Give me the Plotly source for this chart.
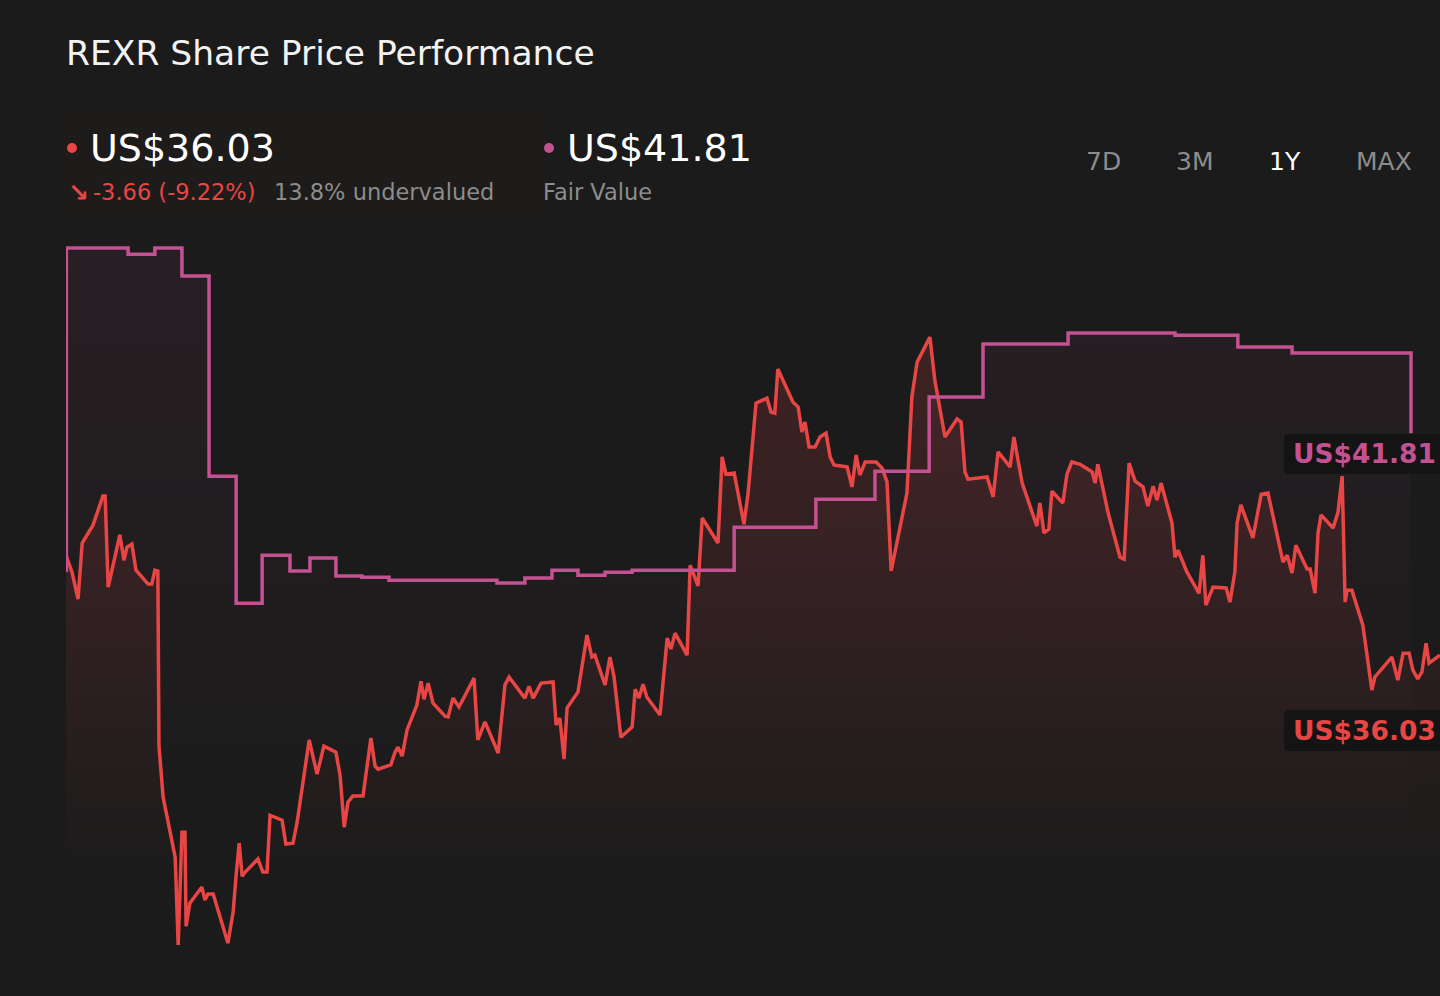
import pandas as pd
import plotly.graph_objects as go

# ---- data ----
START = pd.Timestamp("2023-03-06")
SPAN_DAYS = 365

price_days = [
    0.0, 1.6, 3.2, 4.3, 7.2, 8.8, 9.8, 10.4, 11.2, 12.8, 14.3, 15.4, 16.2, 17.5, 18.6,
    21.8, 22.8, 23.6, 24.4, 24.7, 25.8, 29.0, 29.8, 30.8, 31.6, 31.9, 32.9, 36.1, 36.9,
    37.7, 39.1, 43.0, 44.4, 45.2, 46.0, 46.8, 47.6, 51.0, 52.3, 53.4, 54.2, 57.4, 58.4,
    60.3, 61.4, 64.6, 66.7, 68.5, 71.7, 72.8, 73.9, 74.9, 76.2, 78.9, 81.0, 82.1, 82.9,
    86.3, 87.4, 88.2, 89.3, 90.6, 93.2, 94.3, 95.1, 96.2, 97.5, 100.7, 101.5, 102.8,
    104.4, 108.4, 109.4, 111.3, 114.8, 116.6, 117.7, 121.9, 123.0, 124.1, 126.2, 129.4,
    130.2, 131.2, 132.3, 133.1, 136.0, 138.4, 139.7, 140.5, 143.2, 144.5, 145.6, 147.4,
    150.4, 151.2, 152.2, 153.3, 154.3, 157.8, 159.7, 160.7, 161.8, 165.0, 165.8, 167.9,
    169.0, 173.2, 174.3, 175.3, 177.5, 180.1, 181.2, 183.3, 186.2, 187.3, 188.3, 189.1,
    193.1, 194.5, 195.5, 196.3, 197.4, 199.0, 200.3, 201.9, 203.0, 204.0, 207.5, 208.8,
    209.9, 210.9, 212.3, 215.2, 216.8, 218.1, 219.2, 223.4, 224.7, 226.1, 229.5, 230.8,
    232.2, 233.5, 236.7, 237.8, 238.8, 239.6, 244.7, 246.3, 247.6, 250.8, 251.8, 254.0,
    257.9, 258.7, 259.8, 261.1, 261.9, 264.8, 265.9, 267.2, 269.4, 272.6, 273.4, 274.1,
    276.8, 280.0, 281.1, 282.4, 284.0, 286.1, 287.4, 288.8, 289.8, 290.9, 293.8, 294.6,
    295.4, 297.8, 301.0, 302.0, 302.8, 304.7, 308.2, 309.2, 310.5, 311.1, 312.1, 315.3,
    317.5, 319.3, 323.3, 324.4, 325.7, 326.7, 329.7, 330.5, 331.8, 332.6, 333.4, 336.6,
    337.9, 339.0, 339.8, 340.3, 341.6, 344.5, 346.9, 347.7, 352.2, 353.8, 355.2, 356.8,
    357.8, 359.1, 360.2, 361.3, 362.1, 365.0,
]
price = [
    38.63, 38.19, 37.49, 38.95, 39.42, 39.86, 40.17, 40.17, 37.80, 38.50, 39.16, 38.50,
    38.84, 38.92, 38.24, 37.88, 37.88, 38.24, 38.22, 33.66, 32.33, 30.77, 28.48, 31.42,
    31.42, 28.97, 29.57, 29.99, 29.65, 29.81, 29.81, 28.53, 29.34, 30.30, 31.13, 30.27,
    30.38, 30.72, 30.38, 30.38, 31.86, 31.73, 31.11, 31.13, 31.68, 33.82, 32.93, 33.66,
    33.50, 32.91, 31.55, 32.20, 32.36, 32.36, 33.87, 33.14, 33.06, 33.17, 33.50, 33.63,
    33.40, 34.08, 34.73, 35.35, 34.88, 35.30, 34.78, 34.44, 34.42, 34.91, 34.68, 35.43,
    33.82, 34.29, 33.48, 35.25, 35.46, 34.91, 35.22, 34.91, 35.30, 35.33, 34.21, 34.39,
    33.32, 34.65, 35.07, 36.55, 35.98, 36.03, 35.25, 35.98, 35.46, 33.89, 34.16, 35.14,
    34.91, 35.27, 34.94, 34.47, 36.47, 36.19, 36.60, 36.03, 38.37, 37.83, 39.60, 38.95,
    41.19, 40.74, 40.77, 39.44, 40.25, 42.59, 42.72, 42.36, 42.33, 43.48, 42.62, 42.49,
    41.84, 42.10, 41.45, 41.45, 41.71, 41.81, 41.19, 40.98, 40.93, 40.41, 41.24, 40.72,
    41.06, 41.06, 40.90, 40.54, 38.22, 40.25, 42.75, 43.66, 44.31, 43.19, 42.46, 41.71,
    42.18, 42.10, 40.80, 40.61, 40.67, 40.15, 41.32, 40.93, 41.71, 40.51, 39.39, 39.99,
    39.21, 39.31, 40.30, 39.99, 40.74, 41.06, 41.00, 40.80, 40.51, 41.00, 39.75, 38.58,
    38.53, 41.03, 40.56, 40.41, 39.91, 40.43, 40.07, 40.51, 39.47, 38.58, 38.76, 38.19,
    37.64, 38.63, 37.33, 37.80, 37.78, 37.41, 38.19, 39.47, 39.94, 39.08, 40.22, 40.25,
    38.45, 38.63, 38.17, 38.89, 38.27, 38.27, 37.64, 39.21, 39.68, 39.34, 39.75, 40.69,
    37.41, 37.72, 37.72, 36.81, 35.12, 35.46, 35.98, 35.38, 36.08, 36.08, 35.64, 35.41,
    35.59, 36.34, 35.82, 36.03,
]

fv_days = [
    0.0, 0.1, 16.5, 23.6, 30.8, 38.0, 45.2, 52.1, 59.5, 64.8, 71.7, 78.6, 85.8, 114.5,
    121.9, 129.1, 136.0, 143.2, 150.4, 177.5, 199.2, 214.9, 229.3, 243.6, 266.2, 294.6,
    311.3, 325.7, 357.3,
]
fair_value = [
    38.24, 46.63, 46.47, 46.63, 45.90, 40.69, 37.38, 38.63, 38.22, 38.56, 38.09, 38.06,
    37.98, 37.91, 38.04, 38.24, 38.11, 38.19, 38.24, 39.36, 40.09, 40.82, 42.75, 44.13,
    44.42, 44.36, 44.05, 43.90, 41.81,
]

ticker = "REXR"
last_price = 36.03
last_fair_value = 41.81
change = -3.66
change_pct = -9.22
undervalued_pct = 13.8
range_labels = ["7D", "3M", "1Y", "MAX"]
active_range = "1Y"

# ---- styling ----
BG = "#1b1b1b"
RED = "#e84545"
PINK = "#c45192"
GREY = "#8c8c8c"
TAG_BG = "#151414"
FONT = "DejaVu Sans"

# plot area in pixels (for placing the header texts)
PL, PR, PT, PB = 66, 1440, 230, 960


def px(x):
    return (x - PL) / (PR - PL)


def py(y):
    return (PB - y) / (PB - PT)


price_dates = START + pd.to_timedelta(price_days, unit="D")
fv_dates = START + pd.to_timedelta(fv_days, unit="D")

fig = go.Figure()

# soft fill under the fair value step
fig.add_trace(go.Scatter(
    x=fv_dates, y=fair_value, mode="lines", line=dict(width=0, shape="hv"),
    fill="tozeroy",
    fillgradient=dict(type="vertical",
                      colorscale=[[0, "rgba(196,81,146,0)"], [1, "rgba(196,81,146,0.07)"]],
                      start=31.0, stop=46.6),
    hoverinfo="skip"))

# share price
fig.add_trace(go.Scatter(
    x=price_dates, y=price, mode="lines", name="Share price",
    line=dict(color=RED, width=3.5),
    fill="tozeroy",
    fillgradient=dict(type="vertical",
                      colorscale=[[0, "rgba(232,69,69,0)"], [1, "rgba(232,69,69,0.18)"]],
                      start=30.0, stop=44.3)))

# fair value line
fig.add_trace(go.Scatter(
    x=fv_dates, y=fair_value, mode="lines", name="Fair Value",
    line=dict(color=PINK, width=3.5, shape="hv")))

ann = []


def text(x, y, s, size, color, anchor="left", bold=False, **kw):
    ann.append(dict(
        x=px(x), y=py(y), xref="paper", yref="paper", text=f"<b>{s}</b>" if bold else s,
        showarrow=False, xanchor=anchor, yanchor="middle",
        font=dict(family=FONT, size=size, color=color), **kw))


text(64, 53, f"{ticker} Share Price Performance", 34.5, "#f2f2f2")
text(88, 148, f"US${last_price:.2f}", 38, "#ffffff")
text(66, 192, "↘", 25, RED, bold=True)
text(91, 192, f"{change:.2f} ({change_pct:.2f}%)", 22.5, RED)
text(272, 192, f"{undervalued_pct}% undervalued", 22.5, GREY)
text(565, 148, f"US${last_fair_value:.2f}", 38, "#ffffff")
text(541, 192, "Fair Value", 22.5, GREY)

for lbl, cx in zip(range_labels, [1103, 1194, 1285, 1384]):
    text(cx, 162, lbl, 25, "#ffffff" if lbl == active_range else GREY, anchor="center")

# end-of-line value tags
text(1291, 453, f"US${last_fair_value:.2f}", 26.5, PINK, bold=True)
text(1291, 730, f"US${last_price:.2f}", 26.5, RED, bold=True)


def rounded_box(x0, y0, x1, y1, r=5):
    rx, ry = r / (PR - PL), r / (PB - PT)
    a, b, c, d = px(x0), px(x1), py(y1), py(y0)  # left, right, bottom, top
    path = (f"M {a + rx},{d} L {b - rx},{d} Q {b},{d} {b},{d - ry} "
            f"L {b},{c + ry} Q {b},{c} {b - rx},{c} L {a + rx},{c} "
            f"Q {a},{c} {a},{c + ry} L {a},{d - ry} Q {a},{d} {a + rx},{d} Z")
    return dict(type="path", xref="paper", yref="paper", path=path,
                fillcolor=TAG_BG, line=dict(width=0), layer="above")


shapes = [
    # faint header panel
    dict(type="rect", xref="paper", yref="paper", layer="below",
         x0=px(60), x1=px(545), y0=py(215), y1=py(113),
         fillcolor="rgba(60,35,35,0.12)", line=dict(width=0)),
    rounded_box(1284, 434, 1450, 474),
    rounded_box(1284, 710, 1450, 751),
]
for cx, col in [(72, RED), (549, PINK)]:
    shapes.append(dict(
        type="circle", xref="paper", yref="paper", xsizemode="pixel", ysizemode="pixel",
        xanchor=px(cx), yanchor=py(148), x0=-5, x1=5, y0=-5, y1=5,
        fillcolor=col, line=dict(width=0)))

fig.update_layout(
    width=1440, height=996,
    paper_bgcolor=BG, plot_bgcolor=BG,
    margin=dict(l=PL, r=1440 - PR, t=PT, b=996 - PB),
    showlegend=False,
    xaxis=dict(visible=False, range=[START, START + pd.Timedelta(days=SPAN_DAYS)]),
    yaxis=dict(visible=False, range=[28.09, 47.10]),
    annotations=ann,
    shapes=shapes,
    font=dict(family=FONT),
)

fig.write_html(
    "out.html",
    config={"displayModeBar": False},
    post_script="document.body.style.margin='0';document.body.style.background='#1b1b1b';",
)
